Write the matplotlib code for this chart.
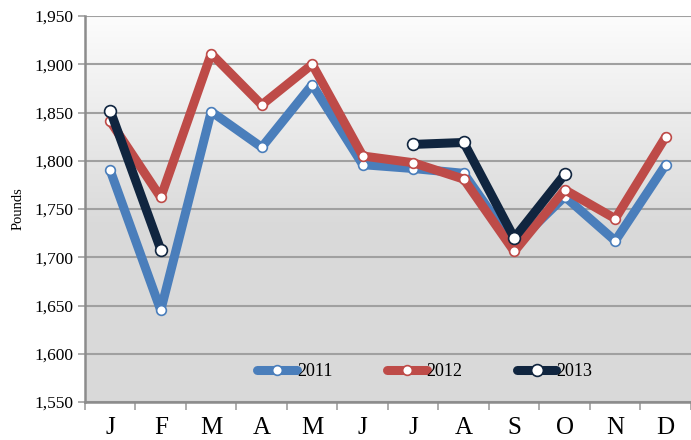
import numpy as np
import matplotlib.pyplot as plt
from matplotlib.ticker import FuncFormatter, MultipleLocator

months = ['J', 'F', 'M', 'A', 'M', 'J', 'J', 'A', 'S', 'O', 'N', 'D']
y2011 = [1790, 1645, 1851, 1814, 1879, 1796, 1792, 1787, 1712, 1763, 1717, 1796]
y2012 = [1841, 1762, 1911, 1858, 1900, 1805, 1798, 1781, 1706, 1770, 1740, 1825]
y2013 = [1852, 1708, np.nan, np.nan, np.nan, np.nan, 1817, 1819, 1720, 1786, np.nan, np.nan]

plt.rcParams['font.family'] = ['Liberation Serif', 'DejaVu Serif']

fig = plt.figure(figsize=(6.91, 4.40), dpi=100)
ax = fig.add_axes([0.123, 0.0864, 0.877, 0.877])

x = np.arange(len(months))

# gradient background: white at top fading to light gray
grad = np.linspace(0, 1, 256)
grad = np.clip(grad / 0.55, 0, 1)
top = np.array([0.99, 0.99, 0.99])
bot = np.array([0.851, 0.851, 0.851])
img = top[None, :] * (1 - grad[:, None]) + bot[None, :] * grad[:, None]
img = img[:, None, :]
ax.imshow(img, extent=[-0.5, 11.5, 1550, 1950], origin='upper', aspect='auto', zorder=0)
ax.set_xlim(-0.5, 11.5)
ax.set_ylim(1550, 1950)

ax.yaxis.set_major_locator(MultipleLocator(50))
ax.grid(axis='y', color='#a0a0a0', linewidth=1.5, zorder=1)
ax.set_axisbelow(True)

series = [
    ('2011', y2011, '#4a7ebb', 7),
    ('2012', y2012, '#be4b48', 7),
    ('2013', y2013, '#10253f', 8.5),
]
for label, vals, color, ms in series:
    ax.plot(x, vals, color=color, linewidth=6.5, solid_capstyle='round',
            solid_joinstyle='round', marker='o', markersize=ms,
            markerfacecolor='white', markeredgecolor=color,
            markeredgewidth=1.2, label=label, zorder=3)

ax.set_xticks(x)
ax.set_xticklabels(months, fontsize=18)
ax.set_xticks(np.arange(-0.5, 12, 1), minor=True)
ax.tick_params(axis='x', which='major', length=0, pad=11)
ax.tick_params(axis='x', which='minor', length=6, width=1.2, color='#a0a0a0')
ax.tick_params(axis='y', length=5, width=1.2, color='#a0a0a0', labelsize=12.5)
ax.yaxis.set_major_formatter(FuncFormatter(lambda v, p: f'{int(v):,}'))

for s in ['top', 'right']:
    ax.spines[s].set_visible(False)
for s in ['left', 'bottom']:
    ax.spines[s].set_color('#8c8c8c')
    ax.spines[s].set_linewidth(1.8)

ax.set_ylabel('Pounds', fontsize=10.5, labelpad=7)

ax.legend(loc='center', bbox_to_anchor=(0.561, 0.078), ncol=3, frameon=False,
          fontsize=13, handlelength=2.2, handletextpad=0.0, columnspacing=3.0)

fig.savefig('out.png', dpi=100)
